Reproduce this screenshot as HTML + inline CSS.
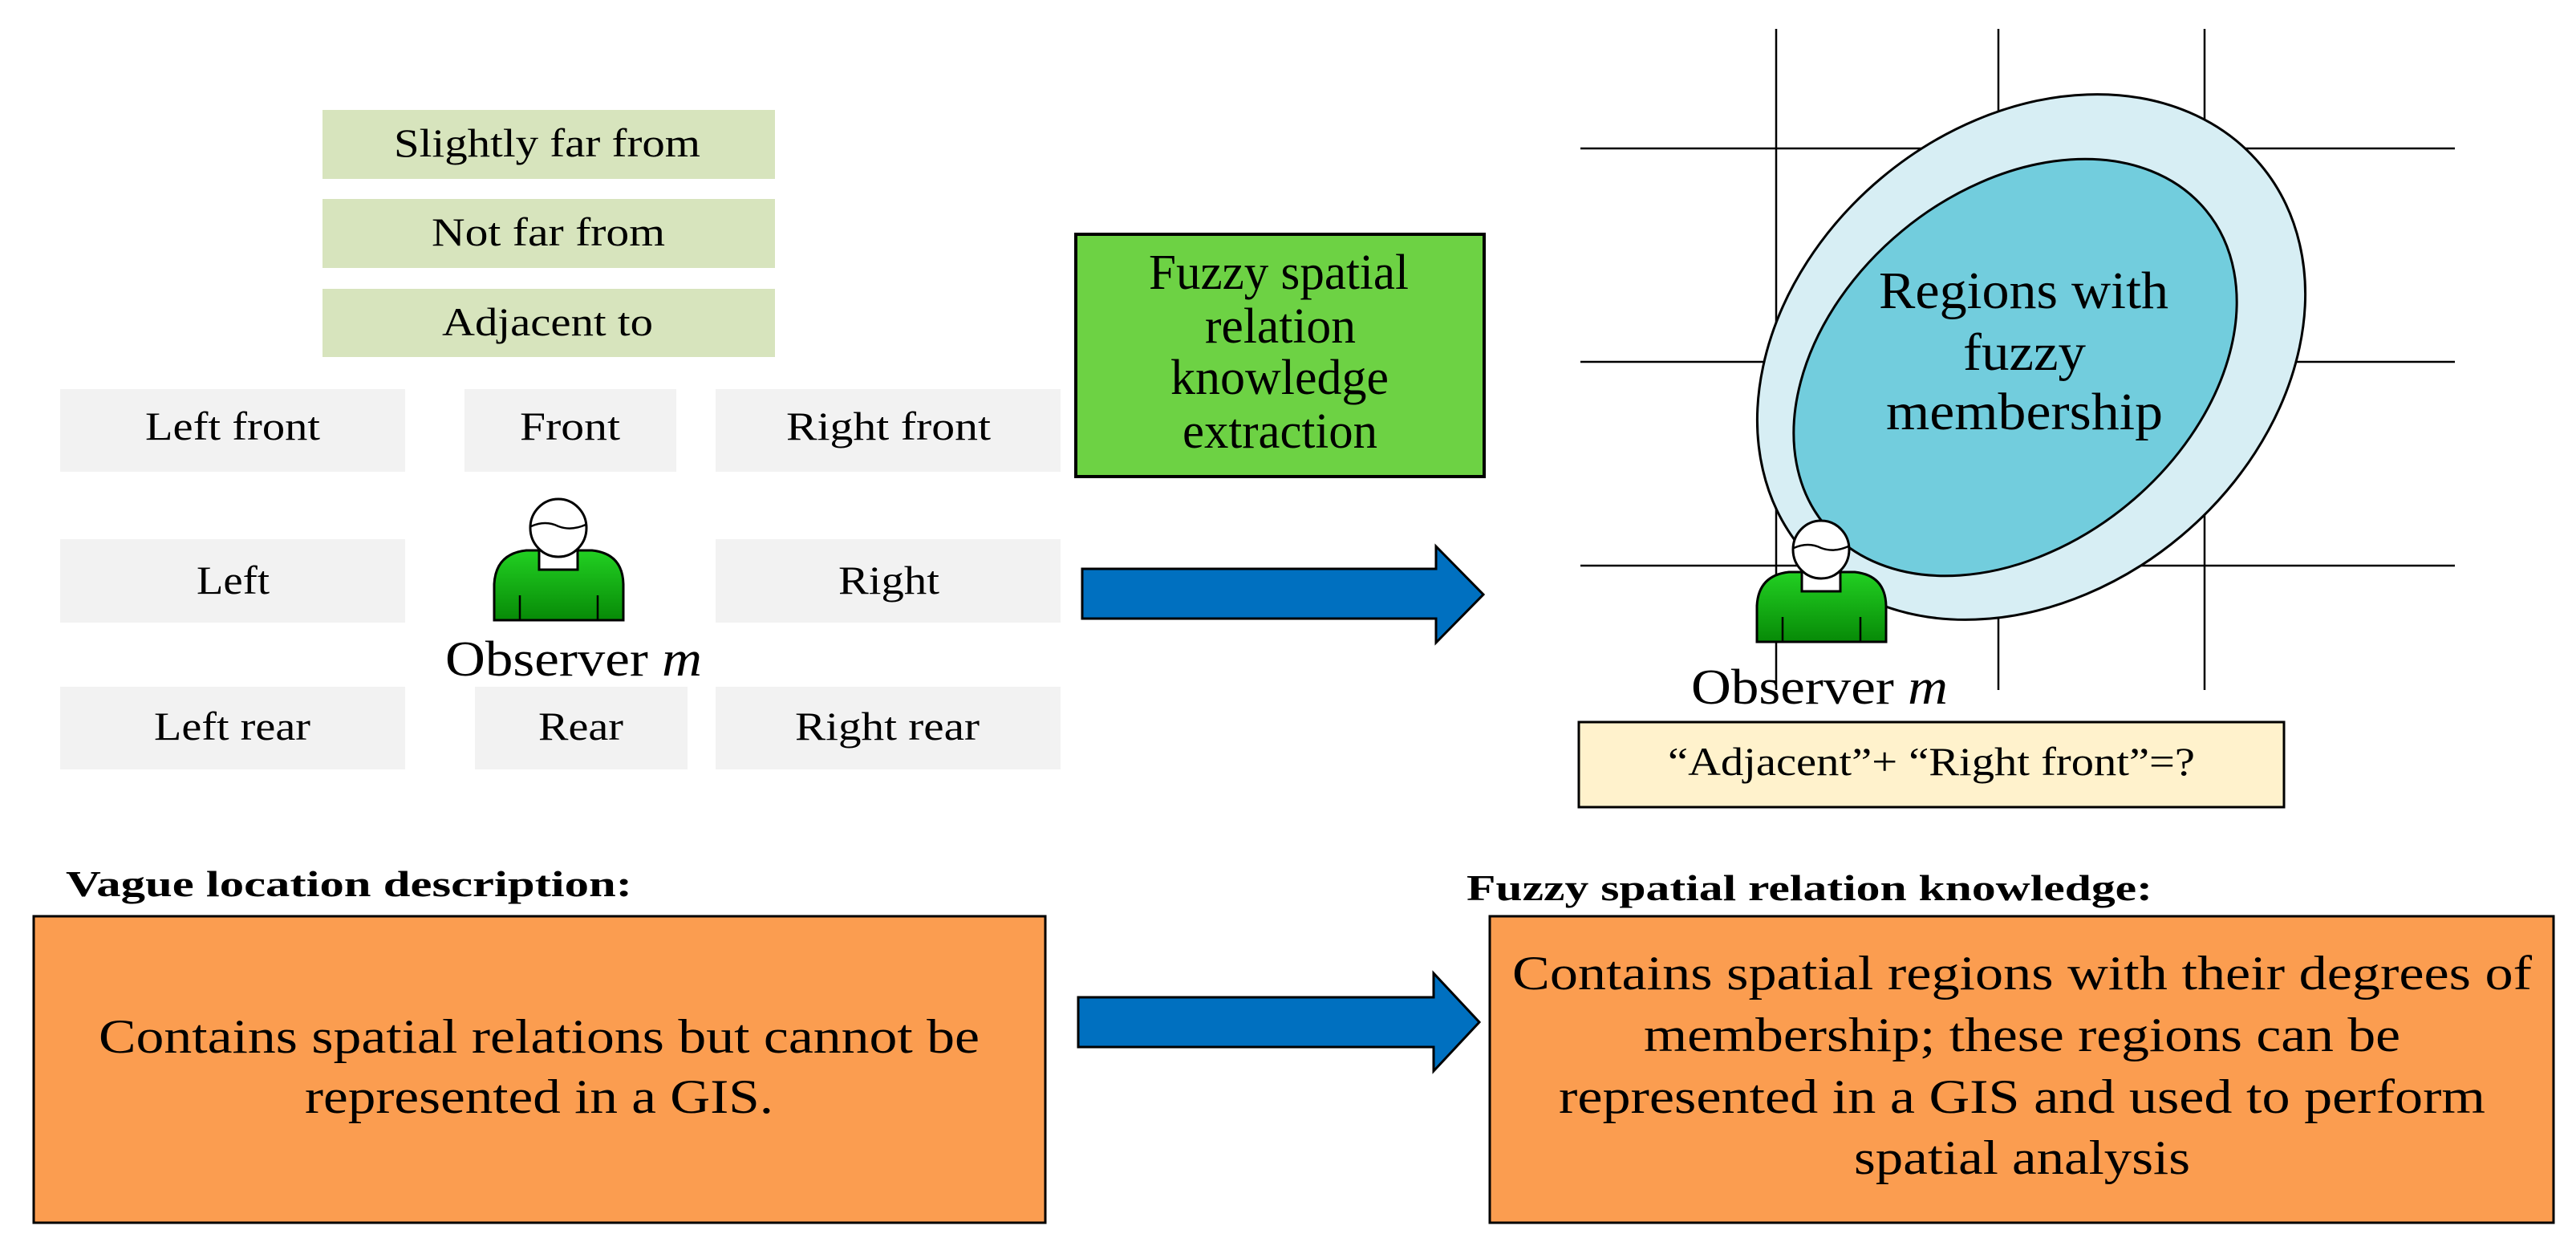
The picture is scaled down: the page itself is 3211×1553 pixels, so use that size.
<!DOCTYPE html>
<html><head><meta charset="utf-8"><style>
html,body{margin:0;padding:0;background:#fff;}
svg{display:block;}
text{font-family:"Liberation Serif",serif;fill:#000;}
</style></head><body>
<svg width="3211" height="1553" viewBox="0 0 3211 1553" xmlns="http://www.w3.org/2000/svg">
<defs>
<linearGradient id="gb" x1="0" y1="0" x2="0" y2="1">
<stop offset="0" stop-color="#22d022"/><stop offset="1" stop-color="#078a07"/>
</linearGradient>
<g id="obs">
<path d="M616,773 L616,728 Q618,690 656,686 L738,686 Q776,690 777,728 L777,773 Z" fill="url(#gb)" stroke="#000" stroke-width="3"/>
<line x1="648" y1="742" x2="648" y2="773" stroke="#000" stroke-width="2.5"/>
<line x1="745" y1="742" x2="745" y2="773" stroke="#000" stroke-width="2.5"/>
<rect x="672" y="672" width="48" height="38" fill="#fff" stroke="#000" stroke-width="3"/>
<ellipse cx="696" cy="658" rx="35" ry="36" fill="#fff" stroke="#000" stroke-width="3"/>
<path d="M662,656 Q680,648 696,656 Q712,662 730,654" fill="none" stroke="#000" stroke-width="2.5"/>
<rect x="674" y="668" width="44" height="12" fill="#fff"/>
</g>
</defs>

<rect x="402" y="137" width="564" height="86" fill="#d7e4bd"/>
<rect x="402" y="248" width="564" height="86" fill="#d7e4bd"/>
<rect x="402" y="360" width="564" height="85" fill="#d7e4bd"/>
<text x="491" y="195" font-size="50" textLength="382" lengthAdjust="spacingAndGlyphs">Slightly far from</text>
<text x="538" y="306" font-size="50" textLength="291" lengthAdjust="spacingAndGlyphs">Not far from</text>
<text x="551" y="418" font-size="50" textLength="263" lengthAdjust="spacingAndGlyphs">Adjacent to</text>

<g fill="#f2f2f2">
<rect x="75" y="485" width="430" height="103"/>
<rect x="579" y="485" width="264" height="103"/>
<rect x="892" y="485" width="430" height="103"/>
<rect x="75" y="672" width="430" height="104"/>
<rect x="892" y="672" width="430" height="104"/>
<rect x="75" y="856" width="430" height="103"/>
<rect x="592" y="856" width="265" height="103"/>
<rect x="892" y="856" width="430" height="103"/>
</g>
<g font-size="50">
<text x="181" y="548" textLength="218" lengthAdjust="spacingAndGlyphs">Left front</text>
<text x="648" y="548" textLength="125" lengthAdjust="spacingAndGlyphs">Front</text>
<text x="980" y="548" textLength="255" lengthAdjust="spacingAndGlyphs">Right front</text>
<text x="245" y="740" textLength="91" lengthAdjust="spacingAndGlyphs">Left</text>
<text x="1045" y="740" textLength="126" lengthAdjust="spacingAndGlyphs">Right</text>
<text x="192" y="922" textLength="195" lengthAdjust="spacingAndGlyphs">Left rear</text>
<text x="671" y="922" textLength="106" lengthAdjust="spacingAndGlyphs">Rear</text>
<text x="991" y="922" textLength="230" lengthAdjust="spacingAndGlyphs">Right rear</text>
</g>
<use href="#obs"/>
<text x="555" y="842" font-size="62" textLength="320" lengthAdjust="spacingAndGlyphs">Observer <tspan font-style="italic">m</tspan></text>

<rect x="1341" y="292" width="509" height="302" fill="#6dd244" stroke="#000" stroke-width="4"/>
<g font-size="62">
<text x="1432" y="360" textLength="324" lengthAdjust="spacingAndGlyphs">Fuzzy spatial</text>
<text x="1502" y="427" textLength="188" lengthAdjust="spacingAndGlyphs">relation</text>
<text x="1459" y="491" textLength="272" lengthAdjust="spacingAndGlyphs">knowledge</text>
<text x="1474" y="558" textLength="243" lengthAdjust="spacingAndGlyphs">extraction</text>
</g>

<path d="M1349,709 L1790,709 L1790,681 L1849,741 L1790,801 L1790,771 L1349,771 Z" fill="#0070c0" stroke="#000" stroke-width="3"/>

<g stroke="#000" stroke-width="2.5">
<line x1="2214" y1="36" x2="2214" y2="860"/>
<line x1="2491" y1="36" x2="2491" y2="860"/>
<line x1="2748" y1="36" x2="2748" y2="860"/>
<line x1="1970" y1="185" x2="3060" y2="185"/>
<line x1="1970" y1="451" x2="3060" y2="451"/>
<line x1="1970" y1="705" x2="3060" y2="705"/>
</g>
<ellipse cx="2532" cy="445" rx="373" ry="291" transform="rotate(-40 2532 445)" fill="#d7eef4" stroke="#000" stroke-width="3"/>
<ellipse cx="2512" cy="458" rx="308" ry="221" transform="rotate(-39.5 2512 458)" fill="#72cddd" stroke="#000" stroke-width="3"/>
<g font-size="66">
<text x="2342" y="384" textLength="361" lengthAdjust="spacingAndGlyphs">Regions with</text>
<text x="2447" y="461" textLength="153" lengthAdjust="spacingAndGlyphs">fuzzy</text>
<text x="2351" y="535" textLength="345" lengthAdjust="spacingAndGlyphs">membership</text>
</g>
<use href="#obs" transform="translate(1574,27)"/>
<text x="2108" y="877" font-size="62" textLength="320" lengthAdjust="spacingAndGlyphs">Observer <tspan font-style="italic">m</tspan></text>

<rect x="1968" y="900" width="879" height="106" fill="#fff2cc" stroke="#000" stroke-width="3"/>
<text x="2079" y="966" font-size="50" textLength="657" lengthAdjust="spacingAndGlyphs">“Adjacent”+ “Right front”=?</text>

<text x="82" y="1117" font-size="46" font-weight="bold" textLength="706" lengthAdjust="spacingAndGlyphs">Vague location description:</text>
<text x="1828" y="1122" font-size="46" font-weight="bold" textLength="855" lengthAdjust="spacingAndGlyphs">Fuzzy spatial relation knowledge:</text>

<rect x="42" y="1142" width="1261" height="382" fill="#fb9d50" stroke="#000" stroke-width="3"/>
<rect x="1857" y="1142" width="1326" height="382" fill="#fb9d50" stroke="#000" stroke-width="3"/>

<g font-size="60">
<text x="123" y="1312" textLength="1098" lengthAdjust="spacingAndGlyphs">Contains spatial relations but cannot be</text>
<text x="380" y="1387" textLength="584" lengthAdjust="spacingAndGlyphs">represented in a GIS.</text>
<text x="1885" y="1233" textLength="1271" lengthAdjust="spacingAndGlyphs">Contains spatial regions with their degrees of</text>
<text x="2049" y="1310" textLength="943" lengthAdjust="spacingAndGlyphs">membership; these regions can be</text>
<text x="1943" y="1387" textLength="1155" lengthAdjust="spacingAndGlyphs">represented in a GIS and used to perform</text>
<text x="2311" y="1463" textLength="419" lengthAdjust="spacingAndGlyphs">spatial analysis</text>
</g>

<path d="M1344,1243 L1787,1243 L1787,1213 L1844,1274 L1787,1335 L1787,1305 L1344,1305 Z" fill="#0070c0" stroke="#000" stroke-width="3"/>
</svg>
</body></html>
